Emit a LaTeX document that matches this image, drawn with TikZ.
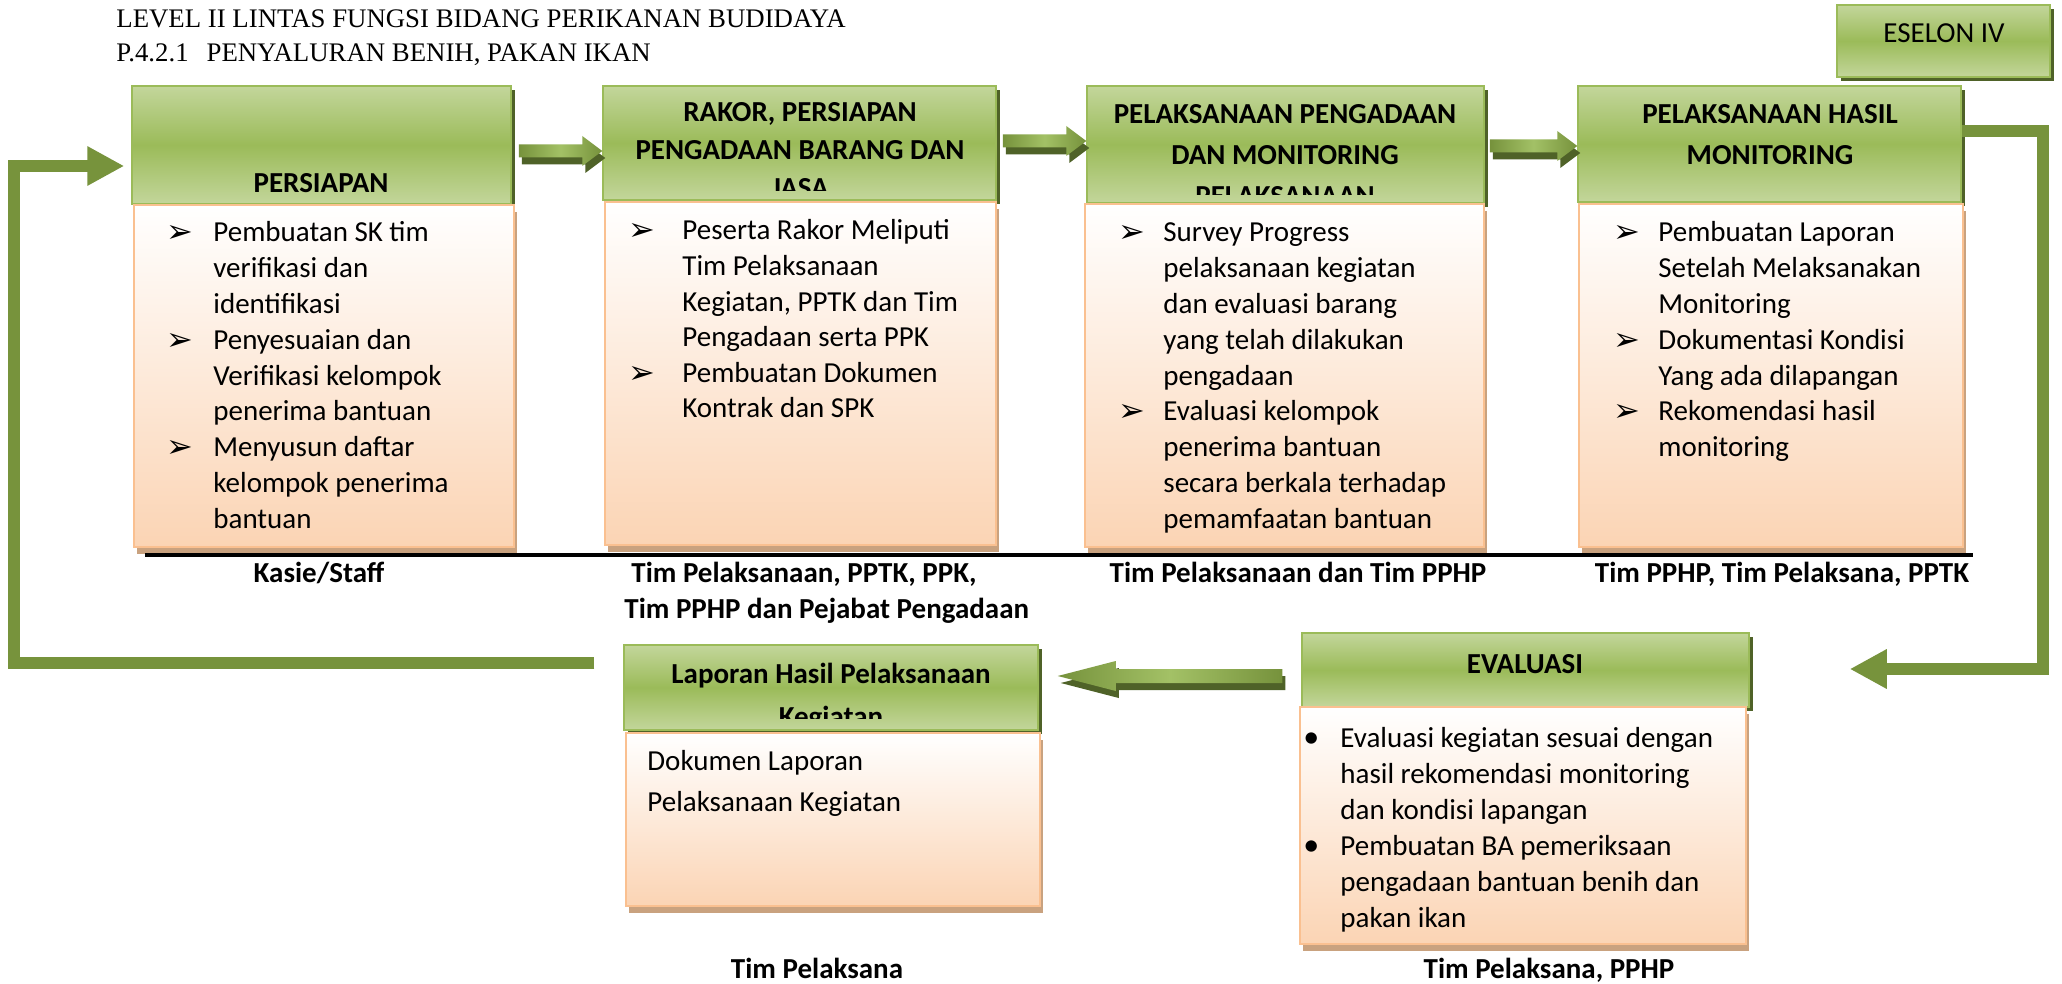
\documentclass[tikz,border=0pt]{standalone}
\usepackage{fontspec}
\setmainfont{Carlito}
\newfontfamily\titlefont{Liberation Serif}
\newfontfamily\symfont{DejaVu Sans}
\usetikzlibrary{calc,fit,shadows,arrows.meta}

\definecolor{hdrlight}{HTML}{C3D69B}
\definecolor{hdrmid}{HTML}{9BBB59}
\definecolor{hdrline}{HTML}{9BBB59}
\definecolor{hdrshade}{HTML}{4F6228}
\definecolor{bodylow}{HTML}{FBD4B4}
\definecolor{bodyline}{HTML}{FAC090}
\definecolor{bodyshade}{HTML}{C9A27F}
\definecolor{loopgreen}{HTML}{77933C}
\definecolor{arrdark}{HTML}{76923C}
\definecolor{arrlight}{HTML}{A3C166}
\definecolor{arrshade}{HTML}{4F6228}

% bullet lists built from stacked boxes, first baseline = box baseline
\newlength\bulw
\newcommand\arrbul{{\symfont\fontsize{16pt}{16pt}\selectfont\raisebox{-0.5pt}{➢}}}
\newcommand\dotbul{{\fontsize{16pt}{16pt}\selectfont •}}
\newcommand\ia[1]{\hbox{\hbox to\bulw{\arrbul\hfil}#1}}
\newcommand\ib[1]{\hbox{\hbox to\bulw{\dotbul\hfil}#1}}
\newcommand\ic[1]{\hbox{\hskip\bulw #1}}
\newcommand\listbox[3]{\vtop{\bulw=#1\baselineskip=#2\lineskiplimit=-20pt #3}}
% centred lines with a fixed baseline distance
\newcommand\clines[2]{\vtop{\baselineskip=#1\lineskiplimit=-20pt\halign{\hfil##\hfil\cr#2\crcr}}}

% 3-D block arrow: tail, tip, shaft half height, head half height, signed head length
\newcommand\blockarrow[5]{%
  \pgfmathsetmacro\bhx{-(#5)}%
  \pgfmathsetmacro\bsx{3-(#5)}%
  \pgfmathsetmacro\bsa{7-(#3)}\pgfmathsetmacro\bsb{7+(#3)}%
  \pgfmathsetmacro\bsc{7-(#4)}\pgfmathsetmacro\bsd{7+(#4)}%
  \fill[arrshade] ($(#1)+(3,\bsa)$) -- ($(#2)+(\bsx,\bsa)$) -- ($(#2)+(\bsx,\bsc)$) -- ($(#2)+(3,7)$)
    -- ($(#2)+(\bsx,\bsd)$) -- ($(#2)+(\bsx,\bsb)$) -- ($(#1)+(3,\bsb)$) -- cycle;
  \shade[left color=arrdark, right color=arrdark, middle color=arrlight]
    ($(#1)+(0,-#3)$) -- ($(#2)+(\bhx,-#3)$) -- ($(#2)+(\bhx,-#4)$) -- (#2)
    -- ($(#2)+(\bhx,#4)$) -- ($(#2)+(\bhx,#3)$) -- ($(#1)+(0,#3)$) -- cycle;}

\tikzset{
  hdr/.style={inner sep=0pt, draw=hdrline, line width=0.75pt,
    top color=hdrlight, bottom color=hdrlight, middle color=hdrmid,
    general shadow={fill=hdrshade, shadow xshift=2pt, shadow yshift=-2pt}},
  bodybox/.style={inner sep=0pt, draw=bodyline, line width=1pt,
    top color=white, bottom color=bodylow,
    general shadow={fill=bodyshade, shadow xshift=1.5pt, shadow yshift=-3.5pt}},
  htxt/.style={inner sep=0pt, font=\bfseries\fontsize{14.5pt}{20pt}\selectfont},
  ltxt/.style={inner sep=0pt, anchor=base west, font=\fontsize{14.5pt}{17.9pt}\selectfont},
  lbl/.style={inner sep=0pt, anchor=base, font=\bfseries\fontsize{14.5pt}{18pt}\selectfont},
  ttl/.style={inner sep=0pt, anchor=base west, font=\titlefont\fontsize{13.4pt}{16pt}\selectfont},
  loop/.style={draw=loopgreen, line width=6pt, line join=miter,
    -{Triangle[length=18.5pt, width=18.5pt]}},
}

\begin{document}
\begin{tikzpicture}[x=0.5pt, y=-0.5pt]
\fill[white] (0,0) rectangle (2062,984);
\useasboundingbox (0,0) rectangle (2062,984);

% heading
\node[ttl] (title1) at (116,28) {LEVEL II LINTAS FUNGSI BIDANG PERIKANAN BUDIDAYA};
\node[ttl] (title2) at (116,62) {P.4.2.1\hspace{9pt}PENYALURAN BENIH, PAKAN IKAN};

% level tag
\node[hdr, fit={(1837,5) (2050,77)}] (es) {};
\node[inner sep=0pt, anchor=base, font=\fontsize{14.5pt}{18pt}\selectfont] (est) at (1944,43) {ESELON IV};

% step 1
\node[hdr, fit={(132,86) (511,204)}] (h1) {};
\node[htxt, anchor=base] (h1t) at (321,193) {PERSIAPAN};
\node[bodybox, fit={(134,205) (514,547)}] (b1) {};
\node[ltxt] (b1t) at (166,242) {\listbox{23.5pt}{17.9pt}{%
  \ia{Pembuatan SK tim}\ic{verifikasi dan}\ic{identifikasi}%
  \ia{Penyesuaian dan}\ic{Verifikasi kelompok}\ic{penerima bantuan}%
  \ia{Menyusun daftar}\ic{kelompok penerima}\ic{bantuan}}};

% step 2
\node[hdr, fit={(603,86) (996,200)}] (h2) {};
\begin{scope}
  \clip (h2.north west) rectangle ($(h2.south east)+(0,-10)$);
  \node[htxt, anchor=base] (h2t) at (800,122) {\clines{19pt}{RAKOR, PERSIAPAN\cr PENGADAAN BARANG DAN\cr JASA}};
\end{scope}
\node[bodybox, fit={(605,202) (996,545)}] (b2) {};
\node[ltxt] (b2t) at (628,240) {\listbox{27pt}{17.8pt}{%
  \ia{Peserta Rakor Meliputi}\ic{Tim Pelaksanaan}\ic{Kegiatan, PPTK dan Tim}\ic{Pengadaan serta PPK}%
  \ia{Pembuatan Dokumen}\ic{Kontrak dan SPK}}};

% step 3
\node[hdr, fit={(1087,86) (1484,203)}] (h3) {};
\begin{scope}
  \clip (h3.north west) rectangle ($(h3.south east)+(0,-9)$);
  \node[htxt, anchor=base] (h3t) at (1285,124) {\clines{20.5pt}{PELAKSANAAN PENGADAAN\cr DAN MONITORING\cr PELAKSANAAN}};
\end{scope}
\node[bodybox, fit={(1085,204) (1484,547)}] (b3) {};
\node[ltxt] (b3t) at (1118,242) {\listbox{22.5pt}{17.9pt}{%
  \ia{Survey Progress}\ic{pelaksanaan kegiatan}\ic{dan evaluasi barang}\ic{yang telah dilakukan}\ic{pengadaan}%
  \ia{Evaluasi kelompok}\ic{penerima bantuan}\ic{secara berkala terhadap}\ic{pemamfaatan bantuan}}};

% step 4
\node[hdr, fit={(1578,86) (1961,202)}] (h4) {};
\node[htxt, anchor=base] (h4t) at (1770,124) {\clines{20.5pt}{PELAKSANAAN HASIL\cr MONITORING}};
\node[bodybox, fit={(1579,204) (1963,547)}] (b4) {};
\node[ltxt] (b4t) at (1613,242) {\listbox{22.5pt}{17.9pt}{%
  \ia{Pembuatan Laporan}\ic{Setelah Melaksanakan}\ic{Monitoring}%
  \ia{Dokumentasi Kondisi}\ic{Yang ada dilapangan}%
  \ia{Rekomendasi hasil}\ic{monitoring}}};

% rule under the upper row
\draw[line width=1.75pt] (145,555) -- (1973,555);

% responsible parties, upper row
\node[lbl] (r1) at (319,582) {Kasie/Staff};
\node[lbl, anchor=base west] (r2a) at (631,582) {Tim Pelaksanaan, PPTK, PPK,};
\node[lbl, anchor=base west] (r2b) at (624,618) {Tim PPHP dan Pejabat Pengadaan};
\node[lbl] (r3) at (1298,582) {Tim Pelaksanaan dan Tim PPHP};
\node[lbl] (r4) at (1782,582) {Tim PPHP, Tim Pelaksana, PPTK};

% report
\node[hdr, fit={(624,645) (1038,730)}] (lh) {};
\begin{scope}
  \clip (lh.north west) rectangle ($(lh.south east)+(0,-12)$);
  \node[htxt, anchor=base] (lht) at (831,683) {\clines{21.5pt}{Laporan Hasil Pelaksanaan\cr Kegiatan}};
\end{scope}
\node[bodybox, fit={(626,733) (1040,906)}] (lb) {};
\node[ltxt] (lbt) at (647,770) {\listbox{0pt}{20.5pt}{\ic{Dokumen Laporan}\ic{Pelaksanaan Kegiatan}}};

% evaluation
\node[hdr, fit={(1302,633) (1749,707)}] (eh) {};
\node[htxt, anchor=base] (eht) at (1525,673) {EVALUASI};
\node[bodybox, fit={(1300,707) (1746,944)}] (eb) {};
\node[ltxt] (ebt) at (1303,747) {\listbox{18.5pt}{18pt}{%
  \ib{Evaluasi kegiatan sesuai dengan}\ic{hasil rekomendasi monitoring}\ic{dan kondisi lapangan}%
  \ib{Pembuatan BA pemeriksaan}\ic{pengadaan bantuan benih dan}\ic{pakan ikan}}};

% responsible parties, lower row
\node[lbl] (r5) at (817,978) {Tim Pelaksana};
\node[lbl] (r6) at (1549,978) {Tim Pelaksana, PPHP};

% block arrows between steps
\coordinate (a12s) at ($(h1.east)+(7,6)$);
\coordinate (a12e) at ($(h2.west)+(0,8)$);
\blockarrow{a12s}{a12e}{6.5}{15}{20}
\coordinate (a23s) at ($(h2.east)+(6,-2)$);
\coordinate (a23e) at ($(h3.west)+(0,-3.5)$);
\blockarrow{a23s}{a23e}{6.5}{15}{20}
\coordinate (a34s) at ($(h3.east)+(5,1.5)$);
\coordinate (a34e) at ($(h4.west)+(0,2)$);
\blockarrow{a34s}{a34e}{6.5}{15}{20}
\coordinate (aes) at ($(eh.west)+(-19,6)$);
\coordinate (aee) at ($(lh.east)+(19,-11.5)$);
\blockarrow{aes}{aee}{7}{15}{-58}

% return loops
\coordinate (rfe) at ($(eh.east)+(100,-1)$);
\draw[loop] ($(h4.east)+(0,-13)$) -- ++(81,0) |- (rfe);
\draw[loop] ($(lh.west)+(-29,-25)$) -- ++(-580,0) |- ($(h1.west)+(-7,21)$);
\end{tikzpicture}
\end{document}
